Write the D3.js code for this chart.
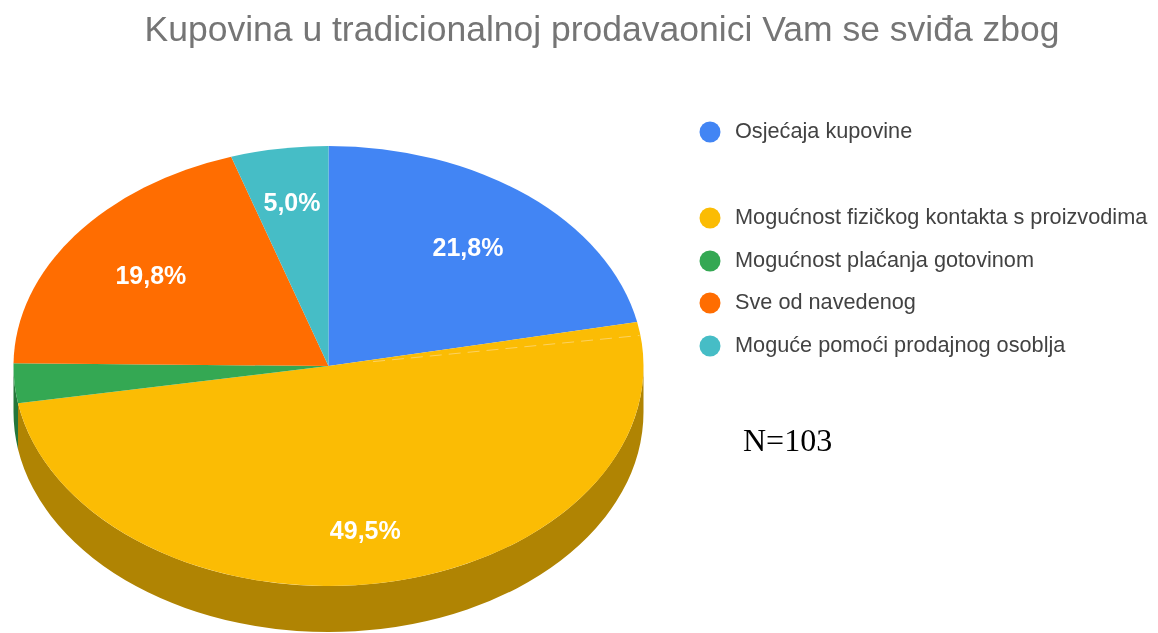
<!DOCTYPE html>
<html>
<head>
<meta charset="utf-8">
<title>Kupovina u tradicionalnoj prodavaonici</title>
<script src="https://cdn.jsdelivr.net/npm/d3@7"></script>
<style>
body { margin: 0; background: #fff; }
svg { filter: blur(0.45px); }
text { font-family: "Liberation Sans", Arial, sans-serif; }
</style>
</head>
<body>
<div id="chart"></div>
<script>
const titleText = 'Kupovina u tradicionalnoj prodavaonici Vam se sviđa zbog';
const categories = ['Osjećaja kupovine', 'Mogućnost fizičkog kontakta s proizvodima', 'Mogućnost plaćanja gotovinom', 'Sve od navedenog', 'Moguće pomoći prodajnog osoblja'];
// slice sizes as drawn in the picture, the printed percentages are kept apart
const values = [21.8, 50.5, 2.9, 19.8, 5.0];
const sliceLabels = ['21,8%', '49,5%', '', '19,8%', '5,0%'];
const colors = ['#4285f4', '#fbbc04', '#34a853', '#ff6d01', '#46bdc6'];
const noteText = 'N=103';

const width = 1158, height = 633;
const cx = 328.5, cy = 366, rx = 315, ry = 220, depth = 46;
const squash = ry / rx;

const svg = d3.select('#chart').append('svg')
    .attr('width', width)
    .attr('height', height);

svg.append('text')
    .attr('x', 602)
    .attr('y', 41)
    .attr('text-anchor', 'middle')
    .attr('font-size', 35.5)
    .attr('fill', '#757575')
    .text(titleText);

const pie = d3.pie().sort(null);
const arcs = pie(values);
const arc = d3.arc().innerRadius(0).outerRadius(rx);

// the side wall, only the front half of the disc shows it
function sidePath(d) {
    const a0 = Math.max(d.startAngle, Math.PI / 2) - Math.PI / 2;
    const a1 = Math.min(d.endAngle, Math.PI * 1.5) - Math.PI / 2;
    if (a1 <= a0) return null;
    const drop = depth / squash;
    const p = d3.path();
    p.arc(0, 0, rx, a0, a1);
    p.arc(0, drop, rx, a1, a0, true);
    p.closePath();
    return p.toString();
}

const pieGroup = svg.append('g')
    .attr('transform', 'translate(' + cx + ',' + cy + ') scale(1,' + squash + ')');

pieGroup.selectAll('path.side')
    .data(arcs)
    .join('path')
    .attr('class', 'side')
    .attr('d', sidePath)
    .attr('fill', (d, i) => d3.color(colors[i]).darker(1));

pieGroup.selectAll('path.top')
    .data(arcs)
    .join('path')
    .attr('class', 'top')
    .attr('d', arc)
    .attr('fill', (d, i) => colors[i]);

// faint dashed scratch on the yellow slice near the blue edge
const scratchAngle = 82 * Math.PI / 180;
svg.append('line')
    .attr('x1', cx + 45 * Math.sin(scratchAngle))
    .attr('y1', cy - 45 * squash * Math.cos(scratchAngle))
    .attr('x2', cx + (rx - 1) * Math.sin(scratchAngle))
    .attr('y2', cy - (rx - 1) * squash * Math.cos(scratchAngle))
    .attr('stroke', '#fbd262')
    .attr('stroke-width', 1)
    .attr('stroke-dasharray', '12 7');

// labels
const labelShift = [[-4, 4], [-5, 8], [0, 0], [5, 3], [-1, -8]];
const labelArc = d3.arc().innerRadius(rx * 0.72).outerRadius(rx * 0.72);
svg.selectAll('text.slice')
    .data(arcs)
    .join('text')
    .attr('class', 'slice')
    .attr('x', (d, i) => cx + labelArc.centroid(d)[0] + labelShift[i][0])
    .attr('y', (d, i) => cy + labelArc.centroid(d)[1] * squash + labelShift[i][1] + 9)
    .attr('text-anchor', 'middle')
    .attr('font-size', 25)
    .attr('font-weight', 700)
    .attr('fill', '#fff')
    .text((d, i) => sliceLabels[i]);

// legend
const legendY = [132, 218, 261, 303, 346];
const legend = svg.selectAll('g.legend')
    .data(categories)
    .join('g')
    .attr('class', 'legend')
    .attr('transform', (d, i) => 'translate(710,' + legendY[i] + ')');

legend.append('circle')
    .attr('r', 10.5)
    .attr('fill', (d, i) => colors[i]);

legend.append('text')
    .attr('x', 25)
    .attr('y', 6)
    .attr('font-size', 21.7)
    .attr('fill', '#424242')
    .text(d => d);

svg.append('text')
    .attr('x', 743)
    .attr('y', 451)
    .attr('font-size', 32)
    .attr('fill', '#000')
    .style('font-family', '"Liberation Serif", serif')
    .text(noteText);
</script>
</body>
</html>
